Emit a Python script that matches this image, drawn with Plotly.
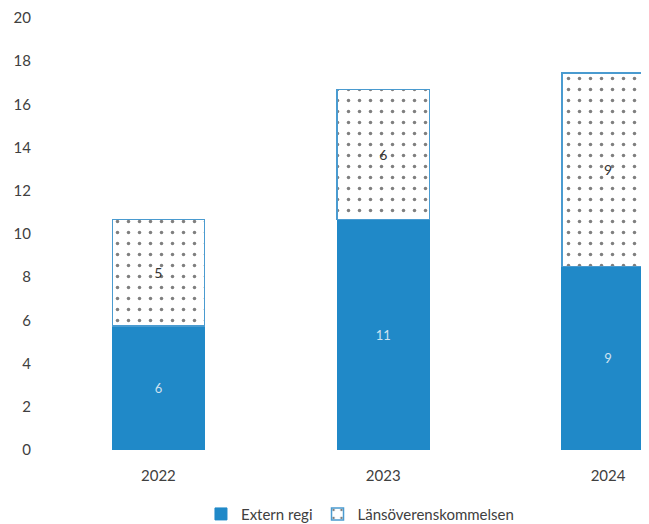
import plotly.graph_objects as go

years = ["2022", "2023", "2024"]
extern_regi = [5.75, 10.67, 8.5]
lans = [4.92, 6.03, 8.95]
extern_labels = ["6", "11", "9"]
lans_labels = ["5", "6", "9"]

BLUE = "#2089c8"
FONT = "Lato"

fig = go.Figure()
fig.add_trace(go.Bar(
    x=years, y=extern_regi, name="Extern regi",
    text=extern_labels, textposition="inside", insidetextanchor="middle",
    textfont=dict(color="#cfe2f0", size=13, family=FONT),
    marker=dict(color=BLUE, line=dict(color=BLUE, width=1)),
))
fig.add_trace(go.Bar(
    x=years, y=lans, name="Länsöverenskommelsen",
    text=lans_labels, textposition="inside", insidetextanchor="middle",
    textfont=dict(color="#333333", size=14, family=FONT),
    marker=dict(color="white", line=dict(color="#4a9bd0", width=1.5),
                pattern=dict(shape=".", fgcolor="#000000", bgcolor="white",
                             size=11, solidity=0.08)),
))

fig.update_layout(
    barmode="stack", bargap=0.59,
    width=649, height=524,
    margin=dict(l=37.5, r=8, t=10, b=82),
    paper_bgcolor="white", plot_bgcolor="white",
    font=dict(family=FONT, size=15, color="#404040"),
    showlegend=True,
    legend=dict(orientation="h", x=0.257, xanchor="left",
                yref="container", y=0.034, yanchor="middle",
                font=dict(size=15, color="#404040"), traceorder="normal",
                itemwidth=30),
)
fig.update_xaxes(range=[-0.5, 2.182], showgrid=False, showline=False, ticks="",
                 tickfont=dict(size=15, color="#404040"), automargin=False,
                 ticklabelstandoff=15)
fig.update_yaxes(range=[0, 20], dtick=2, showgrid=False, zeroline=False, showline=False,
                 ticks="", tickfont=dict(size=15, color="#404040"), ticklabelstandoff=14,
                 automargin=False)

fig.write_html("out.html")
